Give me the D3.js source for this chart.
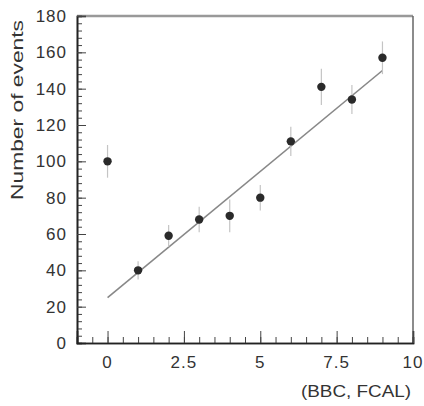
<!DOCTYPE html>
<html lang="en">
  <head>
    <meta charset="utf-8">
    <title>Events vs (BBC, FCAL)</title>
    <script src="https://d3js.org/d3.v7.js"></script>
    <style>
      body { margin: 0; background: #fff; }
      text { font-family: "Liberation Sans", Arial, sans-serif; fill: #333; }
    </style>
  </head>
  <body>
    <script>
  var w = 424;
  var h = 406;

  // measured points
  var xValues = [0, 1, 2, 3, 4, 5, 6, 7, 8, 9];
  var yValues = [100, 40, 59, 68, 70, 80, 111, 141, 134, 157];
  var yErrors = [9, 5, 6, 7, 9, 7, 8, 10, 8, 9];

  // straight line fit
  var fitX = [0, 9];
  var fitY = [25, 150];

  var xTickValues = [0, 2.5, 5, 7.5, 10];
  var xTickLabels = ["0", "2.5", "5", "7.5", "10"];
  var yTickValues = [0, 20, 40, 60, 80, 100, 120, 140, 160, 180];

  var margin = {top: 16, right: 11, bottom: 63, left: 77};

  var xScale = d3.scaleLinear()
    .domain([-1, 10])
    .range([margin.left, w - margin.right]);

  var yScale = d3.scaleLinear()
    .domain([0, 180])
    .range([h - margin.bottom, margin.top]);

  var svg = d3.select("body")
    .append("svg")
    .attr("width", w)
    .attr("height", h);

  // frame: top and right
  svg.append("line")
    .attr("x1", xScale(-1)).attr("x2", xScale(10))
    .attr("y1", yScale(180)).attr("y2", yScale(180))
    .attr("stroke", "#999").attr("stroke-width", 2.5);
  svg.append("line")
    .attr("x1", xScale(10)).attr("x2", xScale(10))
    .attr("y1", yScale(180)).attr("y2", yScale(0))
    .attr("stroke", "#666").attr("stroke-width", 1.5);

  // y axis, ticks pointing into the plot
  var yMinor = d3.range(0, 181, 4);
  var yAxis = d3.axisRight(yScale)
    .tickValues(yTickValues)
    .tickSize(9)
    .tickFormat("");
  var yMinorAxis = d3.axisRight(yScale)
    .tickValues(yMinor)
    .tickSize(5)
    .tickFormat("");

  var gy = svg.append("g").attr("transform", "translate(" + margin.left + ",0)");
  gy.call(yMinorAxis);
  gy.append("g").call(yAxis);
  gy.selectAll("path").attr("stroke", "#222").attr("stroke-width", 1.6);
  gy.selectAll("line").attr("stroke", "#444");

  svg.append("g").selectAll("text")
    .data(yTickValues)
    .enter()
    .append("text")
    .attr("x", margin.left - 10)
    .attr("y", function (d) { return yScale(d) + 6; })
    .attr("text-anchor", "end")
    .style("font-size", "17px")
    .style("letter-spacing", "1px")
    .text(function (d) { return d; });

  // x axis, ticks pointing up
  var xMinor = d3.range(-0.5, 10.01, 0.5);
  var xAxis = d3.axisTop(xScale)
    .tickValues(xTickValues)
    .tickSize(12)
    .tickFormat("");
  var xMinorAxis = d3.axisTop(xScale)
    .tickValues(xMinor)
    .tickSize(6)
    .tickFormat("");

  var gx = svg.append("g").attr("transform", "translate(0," + yScale(0) + ")");
  gx.call(xMinorAxis);
  gx.append("g").call(xAxis);
  gx.selectAll("path").attr("stroke", "#222").attr("stroke-width", 1.6);
  gx.selectAll("line").attr("stroke", "#444");

  svg.append("g").selectAll("text")
    .data(xTickValues)
    .enter()
    .append("text")
    .attr("x", function (d) { return xScale(d); })
    .attr("y", yScale(0) + 25)
    .attr("text-anchor", "middle")
    .style("font-size", "17px")
    .style("letter-spacing", "1px")
    .text(function (d, i) { return xTickLabels[i]; });

  // axis titles
  svg.append("text")
    .attr("x", xScale(10) - 2)
    .attr("y", 397)
    .attr("text-anchor", "end")
    .attr("textLength", 110)
    .attr("lengthAdjust", "spacingAndGlyphs")
    .style("font-size", "16px")
    .text("(BBC, FCAL)");

  svg.append("text")
    .attr("transform", "translate(23,110) rotate(-90)")
    .attr("text-anchor", "middle")
    .attr("textLength", 180)
    .attr("lengthAdjust", "spacingAndGlyphs")
    .style("font-size", "16px")
    .text("Number of events");

  // fit line
  svg.append("line")
    .attr("x1", xScale(fitX[0])).attr("y1", yScale(fitY[0]))
    .attr("x2", xScale(fitX[1])).attr("y2", yScale(fitY[1]))
    .attr("stroke", "#888")
    .attr("stroke-width", 1.6);

  // error bars
  svg.append("g").selectAll("line")
    .data(xValues)
    .enter()
    .append("line")
    .attr("x1", function (d) { return xScale(d); })
    .attr("x2", function (d) { return xScale(d); })
    .attr("y1", function (d, i) { return yScale(yValues[i] - yErrors[i]); })
    .attr("y2", function (d, i) { return yScale(yValues[i] + yErrors[i]); })
    .attr("stroke", "#c4c4c4")
    .attr("stroke-width", 1.2);

  // points
  svg.append("g").selectAll("circle")
    .data(xValues)
    .enter()
    .append("circle")
    .attr("cx", function (d) { return xScale(d); })
    .attr("cy", function (d, i) { return yScale(yValues[i]); })
    .attr("r", 4.2)
    .attr("fill", "#2a2a2a");
    </script>
  </body>
</html>
